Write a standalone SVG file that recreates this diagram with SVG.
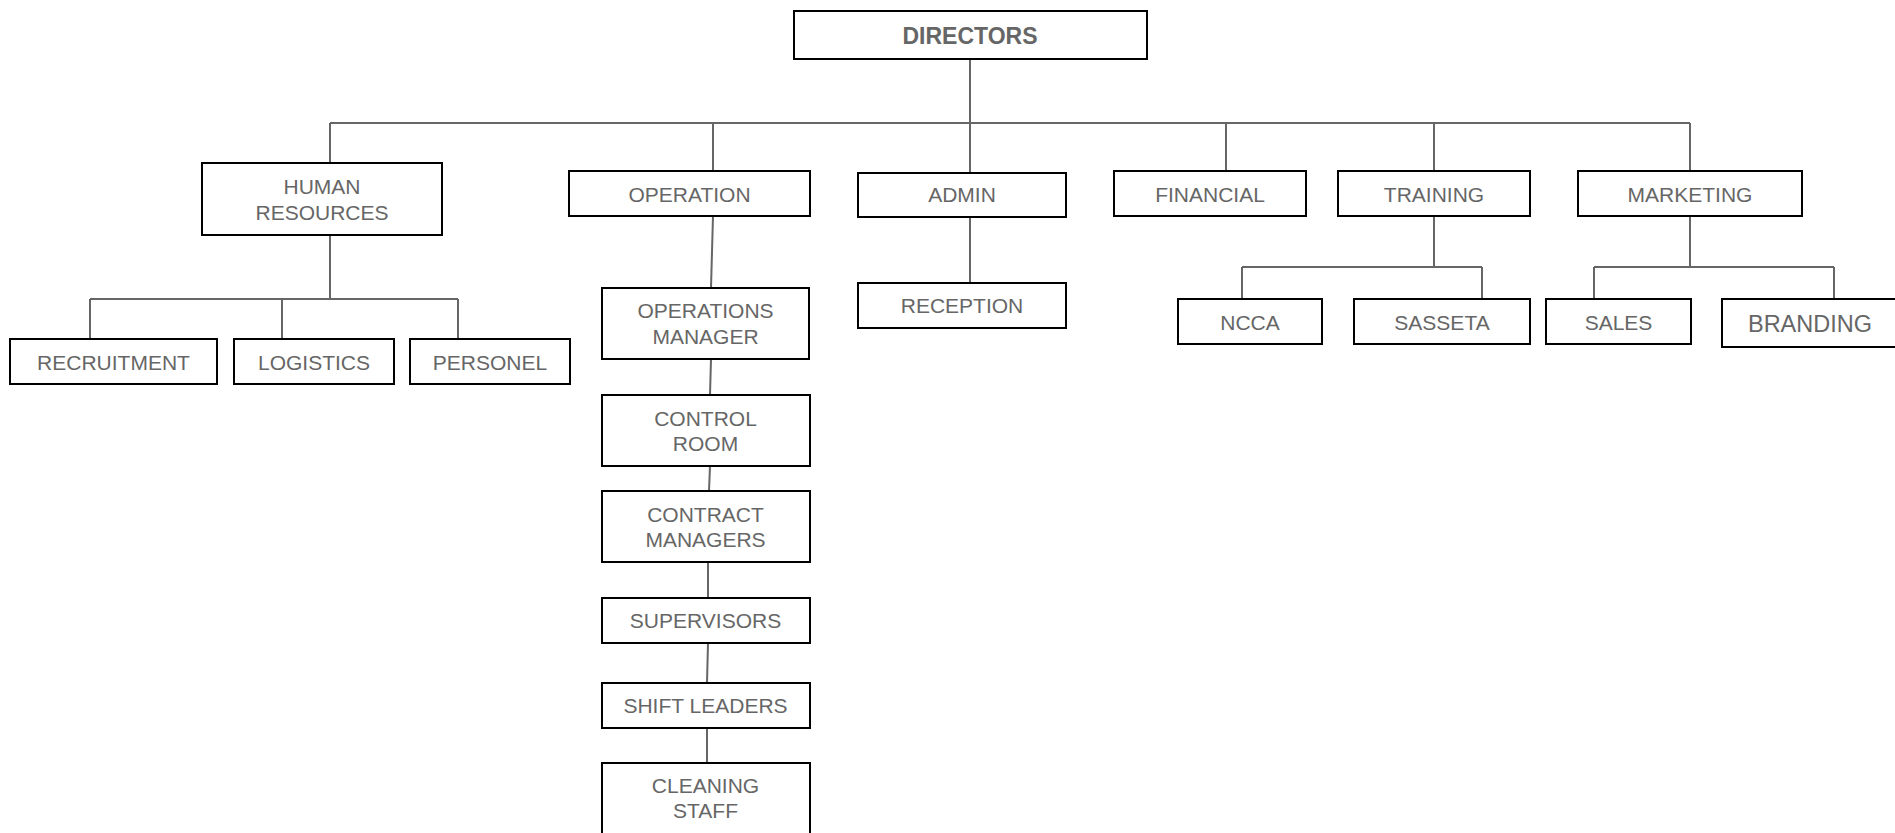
<svg xmlns="http://www.w3.org/2000/svg" width="1895" height="833" viewBox="0 0 1895 833">
<style>
.box{fill:#fff;stroke:#000;stroke-width:2}
.t{font-family:"Liberation Sans",Arial,sans-serif;font-size:21px;fill:#666;text-anchor:middle}
.b{font-weight:bold;font-size:23px}
.conn line{stroke:#666;stroke-width:2;fill:none}
</style>
<rect width="1895" height="833" fill="#fff"/>
<g id="connectors" class="conn">
<line x1="970" y1="59" x2="970" y2="173"/>
<line x1="330" y1="123" x2="1690" y2="123"/>
<line x1="330" y1="123" x2="330" y2="163"/>
<line x1="713" y1="123" x2="713" y2="171"/>
<line x1="1226" y1="123" x2="1226" y2="171"/>
<line x1="1434" y1="123" x2="1434" y2="171"/>
<line x1="1690" y1="123" x2="1690" y2="171"/>
<line x1="330" y1="235" x2="330" y2="299"/>
<line x1="90" y1="299" x2="458" y2="299"/>
<line x1="90" y1="299" x2="90" y2="339"/>
<line x1="282" y1="299" x2="282" y2="339"/>
<line x1="458" y1="299" x2="458" y2="339"/>
<line x1="970" y1="217" x2="970" y2="283"/>
<line x1="1434" y1="216" x2="1434" y2="267"/>
<line x1="1242" y1="267" x2="1482" y2="267"/>
<line x1="1242" y1="267" x2="1242" y2="299"/>
<line x1="1482" y1="267" x2="1482" y2="299"/>
<line x1="1690" y1="216" x2="1690" y2="267"/>
<line x1="1594" y1="267" x2="1834" y2="267"/>
<line x1="1594" y1="267" x2="1594" y2="299"/>
<line x1="1834" y1="267" x2="1834" y2="299"/>
<line x1="713" y1="216" x2="711" y2="288"/>
<line x1="711" y1="359" x2="710" y2="395"/>
<line x1="710" y1="466" x2="709" y2="491"/>
<line x1="708" y1="562" x2="708" y2="598"/>
<line x1="708" y1="643" x2="707" y2="683"/>
<line x1="707" y1="728" x2="707" y2="763"/>
</g>
<g id="directors"><rect class="box" x="794" y="11" width="353" height="48"/><text class="t b" x="970" y="44">DIRECTORS</text></g>
<g id="hr"><rect class="box" x="202" y="163" width="240" height="72"/><text class="t" x="322" y="194">HUMAN</text><text class="t" x="322" y="220">RESOURCES</text></g>
<g id="recruitment"><rect class="box" x="10" y="339" width="207" height="45"/><text class="t" x="113.5" y="370">RECRUITMENT</text></g>
<g id="logistics"><rect class="box" x="234" y="339" width="160" height="45"/><text class="t" x="314" y="370">LOGISTICS</text></g>
<g id="personel"><rect class="box" x="410" y="339" width="160" height="45"/><text class="t" x="490" y="370">PERSONEL</text></g>
<g id="operation"><rect class="box" x="569" y="171" width="241" height="45"/><text class="t" x="689.5" y="202">OPERATION</text></g>
<g id="ops-manager"><rect class="box" x="602" y="288" width="207" height="71"/><text class="t" x="705.5" y="318">OPERATIONS</text><text class="t" x="705.5" y="344">MANAGER</text></g>
<g id="control-room"><rect class="box" x="602" y="395" width="208" height="71"/><text class="t" x="705.5" y="426">CONTROL</text><text class="t" x="705.5" y="451">ROOM</text></g>
<g id="contract-managers"><rect class="box" x="602" y="491" width="208" height="71"/><text class="t" x="705.5" y="522">CONTRACT</text><text class="t" x="705.5" y="547">MANAGERS</text></g>
<g id="supervisors"><rect class="box" x="602" y="598" width="208" height="45"/><text class="t" x="705.5" y="628">SUPERVISORS</text></g>
<g id="shift-leaders"><rect class="box" x="602" y="683" width="208" height="45"/><text class="t" x="705.5" y="713">SHIFT LEADERS</text></g>
<g id="cleaning-staff"><rect class="box" x="602" y="763" width="208" height="80"/><text class="t" x="705.5" y="793">CLEANING</text><text class="t" x="705.5" y="818">STAFF</text></g>
<g id="admin"><rect class="box" x="858" y="173" width="208" height="44"/><text class="t" x="962" y="202">ADMIN</text></g>
<g id="reception"><rect class="box" x="858" y="283" width="208" height="45"/><text class="t" x="962" y="313">RECEPTION</text></g>
<g id="financial"><rect class="box" x="1114" y="171" width="192" height="45"/><text class="t" x="1210" y="202">FINANCIAL</text></g>
<g id="training"><rect class="box" x="1338" y="171" width="192" height="45"/><text class="t" x="1434" y="202">TRAINING</text></g>
<g id="ncca"><rect class="box" x="1178" y="299" width="144" height="45"/><text class="t" x="1250" y="330">NCCA</text></g>
<g id="sasseta"><rect class="box" x="1354" y="299" width="176" height="45"/><text class="t" x="1442" y="330">SASSETA</text></g>
<g id="marketing"><rect class="box" x="1578" y="171" width="224" height="45"/><text class="t" x="1690" y="202">MARKETING</text></g>
<g id="sales"><rect class="box" x="1546" y="299" width="145" height="45"/><text class="t" x="1618.5" y="330">SALES</text></g>
<g id="branding"><rect class="box" x="1722" y="299" width="176" height="48"/><text class="t" x="1810" y="332" style="font-size:23.5px">BRANDING</text></g>
</svg>
